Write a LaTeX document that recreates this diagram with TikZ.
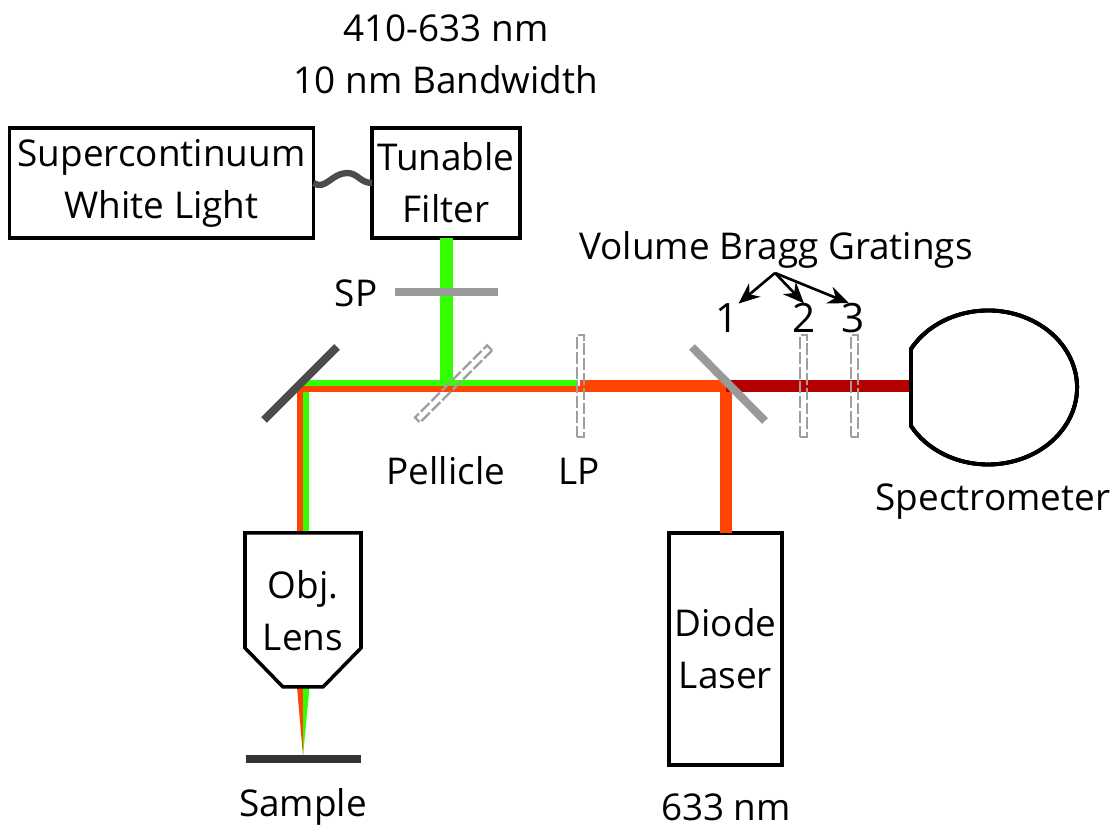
\documentclass[tikz,border=0pt]{standalone}
\usepackage{fontspec}
\setmainfont{Open Sans}
\usetikzlibrary{calc}
\usetikzlibrary{arrows.meta}
\definecolor{beamgreen}{RGB}{51,255,0}
\definecolor{beamred}{RGB}{255,69,0}
\definecolor{beamdark}{RGB}{181,0,0}
\tikzset{
  box/.style={draw,line width=1pt,inner sep=0pt,outer sep=0pt,align=center},
  lbl/.style={inner sep=0pt,outer sep=0pt,align=center},
  beam/.style={line width=3.5pt,miter limit=10},
  halfbeam/.style={line width=1.85pt},
  plate/.style={draw=gray!75,line width=0.65pt,dash pattern=on 3.4pt off 0.8pt,minimum width=0.07cm,minimum height=1.02cm,inner sep=0pt,outer sep=0pt},
  optic/.style={line width=2.3pt}
}
\newcommand{\createplate}[4]{\node[plate,rotate=#4] (#1) at (#2,#3) {};}
\begin{document}
\begin{tikzpicture}[font=\fontsize{10.5}{14.8}\selectfont]
    \useasboundingbox (0,0) rectangle (11.19,8.26);
    %boxes
    \node[box,minimum width=3.04cm,minimum height=1.10cm] (super) at (1.615,6.43) {Supercontinuum\\White Light};
    \node[box,minimum width=1.48cm,minimum height=1.10cm] (tunable) at (4.46,6.43) {Tunable\\Filter};
    \node[box,minimum width=1.13cm,minimum height=2.32cm] (diode) at (7.255,1.77) {Diode\\Laser};
    \draw[line width=1.8pt,color=black!70] (super.east) .. controls (3.25,6.35) and (3.32,6.53) .. (3.47,6.53) .. controls (3.58,6.53) and (3.60,6.43) .. (tunable.west);
    %beam points
    \coordinate (split) at (4.465,4.43);
    \coordinate (lpgreen) at (5.78,4.43);
    \coordinate (lpred) at (5.80,4.37);
    \coordinate (lporange) at (5.80,4.40);
    \coordinate (mirrorb) at (7.26,4.40);
    \coordinate (objgreen) at (3.06,2.93);
    \coordinate (objred) at (3.00,2.93);
    \coordinate (spec) at (9.11,4.40);
    %beams
    \draw[beam,beamgreen] (tunable.south -| split) -- (split);
    \draw[halfbeam,beamgreen] (lpgreen) -- (3.06,4.43) -- (objgreen);
    \draw[halfbeam,beamred] (lpred) -- (3.00,4.37) -- (objred);
    \draw[beam,beamred] (lporange) -- (mirrorb) -- (diode.north -| mirrorb);
    \draw[beam,beamdark] (mirrorb) -- (spec);
    \fill[beamred] (2.97,1.39) -- (3.03,1.39) -- (3.03,0.70) -- cycle;
    \fill[beamgreen] (3.03,1.39) -- (3.095,1.39) -- (3.03,0.70) -- cycle;
    %objective
    \draw[line width=1pt,fill=white] (2.45,2.93) -- (3.61,2.93) -- (3.61,1.78) -- (3.23,1.39) -- (2.83,1.39) -- (2.45,1.78) -- cycle;
    \node[lbl] (obj) at (3.03,2.15) {Obj.\\Lens};
    %optics
    \draw[optic,color=gray!80] (3.95,5.34) -- (4.98,5.34);
    \draw[optic,color=black!70] (2.64,4.06) -- (3.37,4.79);
    \draw[optic,color=gray!80] (6.92,4.79) -- (7.65,4.05);
    \draw[optic,color=black!80] (2.46,0.67) -- (3.61,0.67);
    \createplate{pellicle}{4.535}{4.42}{-45}
    \foreach \name/\x in {lp/5.805,gratingb/8.035,gratingc/8.545}
        \createplate{\name}{\x}{4.40}{0}
    %spectrometer
    \draw[line width=1.1pt] (9.11,4.77) arc[start angle=150,end angle=-150,x radius=0.89,y radius=0.77] -- cycle;
    %labels
    \node[lbl] (range) at (4.46,7.72) {410-633 nm\\10 nm Bandwidth};
    \node[lbl] (splbl) at (3.56,5.33) {SP};
    \node[lbl] (pelliclelbl) at (4.46,3.55) {Pellicle};
    \node[lbl] (lplbl) at (5.79,3.55) {LP};
    \node[lbl] (vbg) at (7.76,5.76) {Volume Bragg Gratings};
    \node[lbl] (speclbl) at (9.93,3.24) {Spectrometer};
    \node[lbl] (samplelbl) at (3.03,0.19) {Sample};
    \node[lbl] (wavelbl) at (7.26,0.19) {633 nm};
    \node[lbl,font=\fontsize{11.5}{14.8}\selectfont] (numa) at (7.27,5.08) {1};
    \node[lbl,font=\fontsize{11.5}{14.8}\selectfont] (numb) at (8.04,5.08) {2};
    \node[lbl,font=\fontsize{11.5}{14.8}\selectfont] (numc) at (8.53,5.08) {3};
    \coordinate (fork) at (7.75,5.53);
    \foreach \target in {numa.north east,numb.north,numc.105}
        \draw[line width=0.75pt,-{Stealth[length=6pt,width=5pt]}] (fork) -- (\target);
\end{tikzpicture}
\end{document}
